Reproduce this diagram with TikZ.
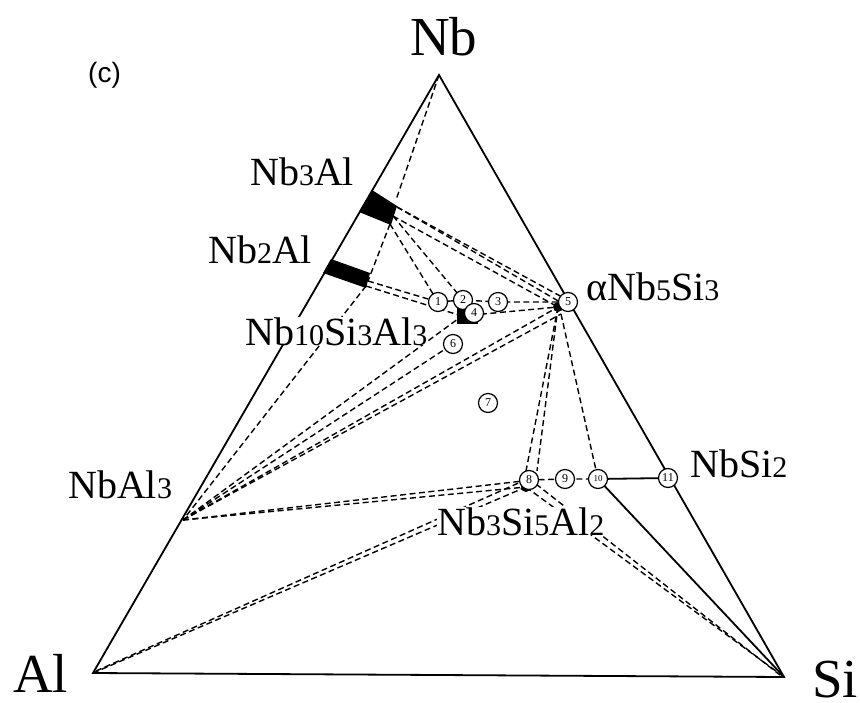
\documentclass[tikz,border=0pt]{standalone}
\usepackage{fontspec}
\setmainfont{Liberation Serif}
\newfontfamily\sansf{Liberation Sans}
\newcommand\sd[1]{{\fontsize{30}{30}\selectfont #1}}
\begin{document}
\begin{tikzpicture}[x=1pt,y=-1pt,
  edge/.style={line width=1.8pt, line join=miter},
  tie/.style={line width=1.4pt, dash pattern=on 6pt off 3.5pt},
  pt/.style={circle, draw, line width=1.2pt, fill=white, inner sep=0pt, minimum size=19pt, font=\fontsize{12}{12}\selectfont},
  big/.style={font=\fontsize{55}{55}\selectfont, inner sep=0pt, text depth=0pt, anchor=base west},
  lab/.style={font=\fontsize{40}{40}\selectfont, inner sep=0pt, anchor=base west}]
\useasboundingbox (0,0) rectangle (860,702);
% key points
\coordinate (Nb) at (439,75);
\coordinate (Al) at (93,673);
\coordinate (Si) at (784,677);
\coordinate (NbAl3) at (183,520);
\coordinate (A5) at (558,307);
\coordinate (A5b) at (562,297);
\coordinate (A5c) at (561,314);
\coordinate (P8) at (526,487);
\coordinate (P8b) at (523,481);
\coordinate (B3a) at (397,207);
\coordinate (B3b) at (393,216);
\coordinate (B3c) at (390,224);
\coordinate (B2) at (368,281);
\coordinate (B2b) at (366,286);
\coordinate (Q4) at (462,316);
\coordinate (Alb) at (96,671);
\coordinate (Sib) at (780,675);
% circles (positions)
\coordinate (p1) at (438,302);
\coordinate (p2) at (463,300);
\coordinate (p3) at (498,302);
\coordinate (p4) at (474,313);
\coordinate (p5) at (568,302);
\coordinate (p6) at (453,344);
\coordinate (p7) at (488,403);
\coordinate (p8) at (529,480);
\coordinate (p9) at (565,479);
\coordinate (p10) at (598,479);
\coordinate (p11) at (668,478);
% dashed tie lines
\draw[tie] (Nb) -- (396,200);
\draw[tie] (B3c) -- (B2);
\draw[tie] (B2b) -- (NbAl3);
\draw[tie] (B3a) -- (A5b);
\draw[tie] (B3a) -- (560,302);
\draw[tie] (B3b) -- (A5);
\draw[tie] (B3c) -- (p1);
\draw[tie] (B3b) -- (p2);
\draw[tie] (B2) -- (p1);
\draw[tie] (B2b) -- (Q4);
\draw[tie] (p1) -- (p2) -- (p3) -- (p5);
\draw[tie] (Q4) -- (A5);
\draw[tie] (NbAl3) -- (Q4);
\draw[tie] (NbAl3) -- (p6);
\draw[tie] (NbAl3) -- (A5);
\draw[tie] (NbAl3) -- (A5c);
\draw[tie] (NbAl3) -- (P8);
\draw[tie] (NbAl3) -- (P8b);
\draw[tie] (Al) -- (P8);
\draw[tie] (Alb) -- (P8b);
\draw[tie] (P8) -- (Si);
\draw[tie] (536,484) -- (Sib);
\draw[tie] (A5) -- (526,471);
\draw[tie] (A5) -- (537,471);
\draw[tie] (A5c) -- (p10);
\draw[tie] (p8) -- (p9) -- (p10);
% solid lines
\draw[edge] (Nb) -- (Al) -- (Si) -- cycle;
\draw[edge] (p10) -- (p11);
\draw[edge] (p10) -- (Si);
% phase bars and blobs
\fill (372,190) -- (397,206) -- (391,225) -- (359,212) -- cycle;
\fill (331,259) -- (370,273) -- (366,288) -- (323,273) -- cycle;
\fill (457,306) rectangle (478,324);
\fill (A5) circle (5);
\fill (P8) circle (5);
% numbered points
\node[pt] (c1) at (p1) {1};
\node[pt] (c2) at (p2) {2};
\node[pt] (c3) at (p3) {3};
\node[pt] (c4) at (p4) {4};
\node[pt] (c5) at (p5) {5};
\node[pt] (c6) at (p6) {6};
\node[pt] (c7) at (p7) {7};
\node[pt] (c8) at (p8) {8};
\node[pt] (c9) at (p9) {9};
\node[pt] (c10) at (p10) {\fontsize{9}{9}\selectfont 10};
\node[pt] (c11) at (p11) {11};
% labels
\node[big] (lNb) at (410,55) {Nb};
\node[big] (lAl) at (13,692) {Al};
\node[big] (lSi) at (812,697) {Si};
\node[font=\sansf\fontsize{28}{28}\selectfont, anchor=west, inner sep=0pt] (lc) at (88,75) {(c)};
\node[lab] (lNb3Al) at (250,185) {Nb\sd{3}Al};
\node[lab] (lNb2Al) at (208,263) {Nb\sd{2}Al};
\node[lab,fill=white] (lNb10) at (245,345) {Nb\sd{10}Si\sd{3}Al\sd{3}};
\node[lab] (la5) at (586,300) {αNb\sd{5}Si\sd{3}};
\node[lab] (lNbSi2) at (690,477) {NbSi\sd{2}};
\node[lab] (lNbAl3) at (68,498) {NbAl\sd{3}};
\node[lab,fill=white] (lNb3Si5) at (437,535) {Nb\sd{3}Si\sd{5}Al\sd{2}};
\end{tikzpicture}
\end{document}
